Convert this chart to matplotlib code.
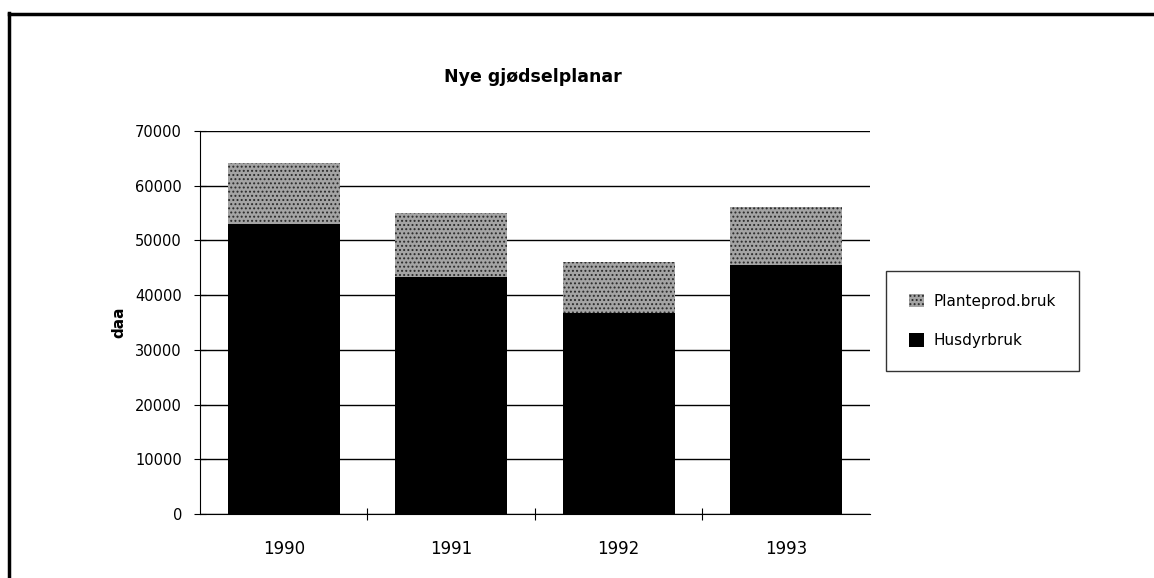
import matplotlib
matplotlib.use('Agg')
import matplotlib.pyplot as plt
from matplotlib.lines import Line2D
from matplotlib.patches import Rectangle
from matplotlib.legend_handler import HandlerPatch

years = ['1990', '1991', '1992', '1993']
husdyrbruk = [53000, 43300, 36800, 45500]
planteprod = [11200, 11700, 9300, 10600]
yticks = [0, 10000, 20000, 30000, 40000, 50000, 60000, 70000]

plt.rcParams['font.family'] = ['DejaVu Sans']
plt.rcParams['hatch.linewidth'] = 0.9


def square_handle(legend, orig_handle, xdescent, ydescent, width, height, fontsize):
    # small fixed-size square, centred in the handle box
    s = fontsize * 0.85
    cx = -xdescent + width / 2
    cy = -ydescent + height / 2
    return Rectangle((cx - s / 2, cy - s / 2), s, s)


fig = plt.figure(figsize=(11.54, 5.78), dpi=100)
ax = fig.add_axes([0.1733, 0.1107, 0.5806, 0.6627])

x = list(range(len(years)))
ax.bar(x, husdyrbruk, width=0.67, color='black', label='Husdyrbruk', zorder=3)
ax.bar(x, planteprod, width=0.67, bottom=husdyrbruk, facecolor='#a4a4a4',
       edgecolor='#2a2a2a', hatch='....', linewidth=0, label='Planteprod.bruk', zorder=3)

ax.set_xlim(-0.5, 3.5)
ax.set_ylim(0, 70000)
ax.set_yticks(yticks)
ax.set_yticklabels([str(v) for v in yticks], fontsize=10.5)
ax.yaxis.grid(True, color='black', linewidth=1.0, zorder=0)
ax.set_axisbelow(True)

ax.set_xticks([0.5, 1.5, 2.5], minor=False)
ax.set_xticklabels([])
ax.set_xticks(x, minor=True)
ax.set_xticklabels(years, minor=True, fontsize=12)
ax.tick_params(axis='x', which='minor', length=0, pad=19)
ax.tick_params(axis='x', which='major', direction='inout', length=8, width=0.8)
ax.tick_params(axis='y', direction='inout', length=8, width=0.8, pad=9)

for s in ['top', 'right']:
    ax.spines[s].set_visible(False)
ax.spines['left'].set_linewidth(0.8)
ax.spines['bottom'].set_linewidth(0.8)

ax.set_ylabel('daa', fontsize=11, fontweight='bold', labelpad=6.5)
fig.text(0.462, 0.866, 'Nye gjødselplanar', ha='center', va='center',
         fontsize=12.5, fontweight='bold')

handles, labels = ax.get_legend_handles_labels()
leg = fig.legend(handles[::-1], labels[::-1], loc='center left',
                 bbox_to_anchor=(0.7678, 0.4446), borderaxespad=0,
                 fontsize=11, frameon=True,
                 fancybox=False, edgecolor='black', handlelength=1.0,
                 handleheight=1.0, labelspacing=1.6, borderpad=1.5,
                 handletextpad=0.6,
                 handler_map={Rectangle: HandlerPatch(patch_func=square_handle)})
leg.get_frame().set_linewidth(1.0)

# outer frame (top and left edges of the scanned page)
fig.add_artist(Line2D([0.0075, 1.0], [0.976, 0.976], color='black', linewidth=2.5,
                      transform=fig.transFigure))
fig.add_artist(Line2D([0.008, 0.008], [0.0, 0.977], color='black', linewidth=2.5,
                      transform=fig.transFigure))

fig.savefig('out.png', dpi=100)
